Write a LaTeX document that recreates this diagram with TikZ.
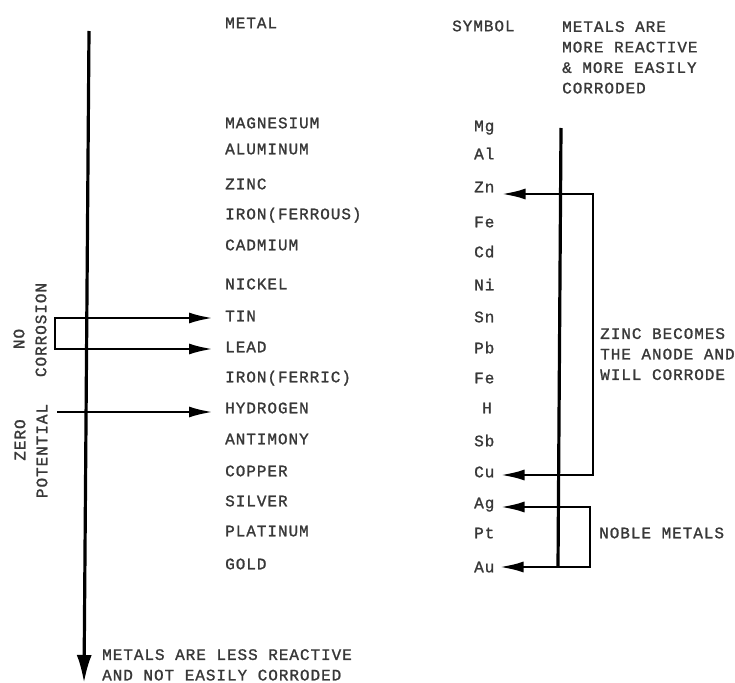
\documentclass[tikz,border=0pt]{standalone}
\usepackage{fontspec}
\setmonofont[LetterSpace=6,FakeBold=1.2]{Liberation Mono}
\usetikzlibrary{arrows.meta,calc}
\begin{document}
\begin{tikzpicture}[x=1bp,y=-1bp,
  tfont/.style={font=\ttfamily\fontsize{16bp}{20.5bp}\selectfont, text=black!78},
  lbl/.style={tfont, inner sep=0pt, anchor=west, text height=10.5bp, text depth=0bp},
  blk/.style={tfont, inner sep=0pt, anchor=north west, align=left},
  rlbl/.style={tfont, inner sep=0pt, rotate=90, text height=10.5bp, text depth=0bp},
  heavy/.style={line width=3.2bp},
  brk/.style={line width=2.8bp, line join=miter},
  tipS/.tip={Latex[length=24bp,width=11bp]},
  tipM/.tip={Latex[length=28bp,width=15bp]}
]
\useasboundingbox (0,0) rectangle (735,683);
\fill[white] (0,0) rectangle (735,683);

% headers
\node[lbl] (hmetal) at (225,23) {METAL};
\node[lbl] (hsym) at (452,26) {SYMBOL};
\node[blk] (more) at (562,21) {METALS ARE\\MORE REACTIVE\\\& MORE EASILY\\CORRODED};

% metals
\node[lbl] (mMg) at (225,123) {MAGNESIUM};
\node[lbl] (mAl) at (225,149) {ALUMINUM};
\node[lbl] (mZn) at (225,184) {ZINC};
\node[lbl] (mFe2) at (225,214) {IRON(FERROUS)};
\node[lbl] (mCd) at (225,245) {CADMIUM};
\node[lbl] (mNi) at (225,284) {NICKEL};
\node[lbl] (mSn) at (225,316) {TIN};
\node[lbl] (mPb) at (225,347) {LEAD};
\node[lbl] (mFe3) at (225,377) {IRON(FERRIC)};
\node[lbl] (mH) at (225,408) {HYDROGEN};
\node[lbl] (mSb) at (225,439) {ANTIMONY};
\node[lbl] (mCu) at (225,471) {COPPER};
\node[lbl] (mAg) at (225,501) {SILVER};
\node[lbl] (mPt) at (225,531) {PLATINUM};
\node[lbl] (mAu) at (225,564) {GOLD};

% symbols
\node[lbl] (sMg) at (474,126) {Mg};
\node[lbl] (sAl) at (474,154) {Al};
\node[lbl] (sZn) at (474,187) {Zn};
\node[lbl] (sFe2) at (474,222) {Fe};
\node[lbl] (sCd) at (474,252) {Cd};
\node[lbl] (sNi) at (474,285) {Ni};
\node[lbl] (sSn) at (474,317) {Sn};
\node[lbl] (sPb) at (474,348) {Pb};
\node[lbl] (sFe3) at (474,378) {Fe};
\node[lbl] (sH) at (482,408) {H};
\node[lbl] (sSb) at (474,441) {Sb};
\node[lbl] (sCu) at (474,472) {Cu};
\node[lbl] (sAg) at (474,503) {Ag};
\node[lbl] (sPt) at (474,533) {Pt};
\node[lbl] (sAu) at (474,567) {Au};

% side labels
\node[blk] (zinc) at (600,328) {ZINC BECOMES\\THE ANODE AND\\WILL CORRODE};
\node[lbl] (noble) at (599,533) {NOBLE METALS};
\node[rlbl] (no) at (19,339) {NO};
\node[rlbl] (corr) at (41,330) {CORROSION};
\node[rlbl] (zero) at (20,440) {ZERO};
\node[rlbl] (pot) at (42,451) {POTENTIAL};
\node[blk] (less) at (102,649) {METALS ARE LESS REACTIVE\\AND NOT EASILY CORRODED};

% main left arrow
\coordinate (Ltop) at (89,31);
\coordinate (Lbot) at (84,683);
\draw[heavy,-tipM] (Ltop) -- (Lbot);

% right vertical line
\coordinate (Rtop) at (561,128);
\coordinate (Rbot) at (558,567);
\draw[heavy] (Rtop) -- (Rbot);

% zinc bracket
\coordinate (zA) at (593,194);
\coordinate (zB) at (593,475);
\draw[brk,tipS-tipS] ($(zA -| sZn.east)+(7,0)$) -- (zA) -- (zB) -- ($(zB -| sCu.east)+(6,0)$);

% noble bracket
\coordinate (nA) at (590,507);
\coordinate (nB) at (590,567);
\draw[brk,tipS-tipS] ($(nA -| sAg.east)+(6,0)$) -- (nA) -- (nB) -- ($(nB -| sAu.east)+(5,0)$);

% no corrosion bracket
\coordinate (cA) at (55,318);
\coordinate (cB) at (55,349);
\draw[brk,tipS-tipS] ($(cA -| mSn.west)+(-12,0)$) -- (cA) -- (cB) -- ($(cB -| mPb.west)+(-12,0)$);

% zero potential arrow
\coordinate (hA) at (57,412);
\draw[brk,-tipS] (hA) -- ($(hA -| mH.west)+(-12,0)$);
\end{tikzpicture}
\end{document}
